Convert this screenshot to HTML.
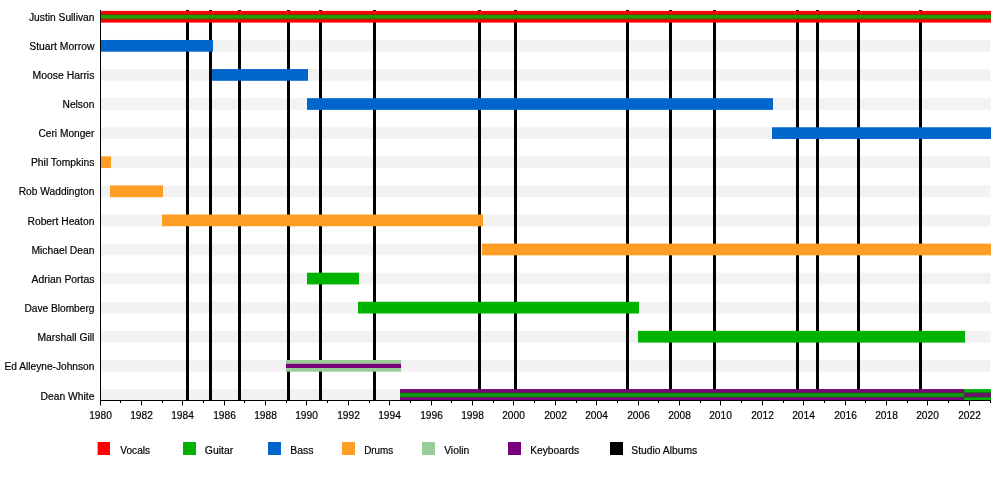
<!DOCTYPE html>
<html><head><meta charset="utf-8"><title>Timeline</title>
<style>html,body{margin:0;padding:0;background:#fff;overflow:hidden}svg{display:block}text{font-family:"Liberation Sans",Arial,Helvetica,sans-serif;font-size:10px;fill:#000;stroke:#000;stroke-width:0.18px}</style></head><body>
<svg width="1000" height="480" viewBox="0 0 1000 480">
<rect width="1000" height="480" fill="#fff"/>
<rect x="101" y="39.99" width="889.5" height="11.7" fill="#f2f2f2"/>
<rect x="101" y="69.08" width="889.5" height="11.7" fill="#f2f2f2"/>
<rect x="101" y="98.17" width="889.5" height="11.7" fill="#f2f2f2"/>
<rect x="101" y="127.26" width="889.5" height="11.7" fill="#f2f2f2"/>
<rect x="101" y="156.35" width="889.5" height="11.7" fill="#f2f2f2"/>
<rect x="101" y="185.44" width="889.5" height="11.7" fill="#f2f2f2"/>
<rect x="101" y="214.53" width="889.5" height="11.7" fill="#f2f2f2"/>
<rect x="101" y="243.62" width="889.5" height="11.7" fill="#f2f2f2"/>
<rect x="101" y="272.71" width="889.5" height="11.7" fill="#f2f2f2"/>
<rect x="101" y="301.80" width="889.5" height="11.7" fill="#f2f2f2"/>
<rect x="101" y="330.89" width="889.5" height="11.7" fill="#f2f2f2"/>
<rect x="101" y="359.98" width="889.5" height="11.7" fill="#f2f2f2"/>
<rect x="101" y="389.07" width="889.5" height="11.7" fill="#f2f2f2"/>
<rect x="186" y="10" width="3" height="390" fill="#000"/>
<rect x="209" y="10" width="3" height="390" fill="#000"/>
<rect x="238" y="10" width="3" height="390" fill="#000"/>
<rect x="287" y="10" width="3" height="390" fill="#000"/>
<rect x="319" y="10" width="3" height="390" fill="#000"/>
<rect x="373" y="10" width="3" height="390" fill="#000"/>
<rect x="478" y="10" width="3" height="390" fill="#000"/>
<rect x="514" y="10" width="3" height="390" fill="#000"/>
<rect x="626" y="10" width="3" height="390" fill="#000"/>
<rect x="669" y="10" width="3" height="390" fill="#000"/>
<rect x="713" y="10" width="3" height="390" fill="#000"/>
<rect x="796" y="10" width="3" height="390" fill="#000"/>
<rect x="816" y="10" width="3" height="390" fill="#000"/>
<rect x="857" y="10" width="3" height="390" fill="#000"/>
<rect x="919" y="10" width="3" height="390" fill="#000"/>
<rect x="100" y="10.90" width="891" height="11.7" fill="#ff0000"/>
<rect x="100" y="14.25" width="891" height="5.1" fill="#604400"/>
<rect x="100" y="15.05" width="891" height="3.55" fill="#1f9e00"/>
<rect x="100" y="39.99" width="113" height="11.7" fill="#0066cc"/>
<rect x="212" y="69.08" width="96" height="11.7" fill="#0066cc"/>
<rect x="307" y="98.17" width="466" height="11.7" fill="#0066cc"/>
<rect x="772" y="127.26" width="219" height="11.7" fill="#0066cc"/>
<rect x="100" y="156.35" width="11" height="11.7" fill="#ff9e24"/>
<rect x="110" y="185.44" width="53" height="11.7" fill="#ff9e24"/>
<rect x="162" y="214.53" width="321" height="11.7" fill="#ff9e24"/>
<rect x="482" y="243.62" width="509" height="11.7" fill="#ff9e24"/>
<rect x="307" y="272.71" width="52" height="11.7" fill="#00b300"/>
<rect x="358" y="301.80" width="281" height="11.7" fill="#00b300"/>
<rect x="638" y="330.89" width="327" height="11.7" fill="#00b300"/>
<rect x="286" y="359.98" width="115" height="11.7" fill="#99cc99"/>
<rect x="286" y="363.78" width="115" height="4.2" fill="#780078"/>
<rect x="400" y="389.07" width="564" height="11.7" fill="#780078"/>
<rect x="400" y="392.42" width="564" height="5.1" fill="#2d442d"/>
<rect x="400" y="393.22" width="564" height="3.55" fill="#0e9e0e"/>
<rect x="964" y="389.07" width="27" height="11.7" fill="#00b300"/>
<rect x="964" y="392.42" width="27" height="5.1" fill="#2d442d"/>
<rect x="964" y="393.22" width="27" height="3.55" fill="#6a156a"/>
<rect x="100" y="10" width="1" height="391" fill="#000"/>
<rect x="100" y="400" width="891" height="1" fill="#000"/>
<rect x="100" y="400" width="1" height="5.5" fill="#000"/>
<text x="89.15" y="419" textLength="22.7" lengthAdjust="spacingAndGlyphs">1980</text>
<rect x="120" y="400" width="1" height="3" fill="#000"/>
<rect x="141" y="400" width="1" height="5.5" fill="#000"/>
<text x="130.15" y="419" textLength="22.7" lengthAdjust="spacingAndGlyphs">1982</text>
<rect x="162" y="400" width="1" height="3" fill="#000"/>
<rect x="182" y="400" width="1" height="5.5" fill="#000"/>
<text x="171.15" y="419" textLength="22.7" lengthAdjust="spacingAndGlyphs">1984</text>
<rect x="203" y="400" width="1" height="3" fill="#000"/>
<rect x="224" y="400" width="1" height="5.5" fill="#000"/>
<text x="213.15" y="419" textLength="22.7" lengthAdjust="spacingAndGlyphs">1986</text>
<rect x="244" y="400" width="1" height="3" fill="#000"/>
<rect x="265" y="400" width="1" height="5.5" fill="#000"/>
<text x="254.15" y="419" textLength="22.7" lengthAdjust="spacingAndGlyphs">1988</text>
<rect x="286" y="400" width="1" height="3" fill="#000"/>
<rect x="306" y="400" width="1" height="5.5" fill="#000"/>
<text x="295.15" y="419" textLength="22.7" lengthAdjust="spacingAndGlyphs">1990</text>
<rect x="327" y="400" width="1" height="3" fill="#000"/>
<rect x="348" y="400" width="1" height="5.5" fill="#000"/>
<text x="337.15" y="419" textLength="22.7" lengthAdjust="spacingAndGlyphs">1992</text>
<rect x="369" y="400" width="1" height="3" fill="#000"/>
<rect x="389" y="400" width="1" height="5.5" fill="#000"/>
<text x="378.15" y="419" textLength="22.7" lengthAdjust="spacingAndGlyphs">1994</text>
<rect x="410" y="400" width="1" height="3" fill="#000"/>
<rect x="431" y="400" width="1" height="5.5" fill="#000"/>
<text x="420.15" y="419" textLength="22.7" lengthAdjust="spacingAndGlyphs">1996</text>
<rect x="451" y="400" width="1" height="3" fill="#000"/>
<rect x="472" y="400" width="1" height="5.5" fill="#000"/>
<text x="461.15" y="419" textLength="22.7" lengthAdjust="spacingAndGlyphs">1998</text>
<rect x="493" y="400" width="1" height="3" fill="#000"/>
<rect x="513" y="400" width="1" height="5.5" fill="#000"/>
<text x="502.15" y="419" textLength="22.7" lengthAdjust="spacingAndGlyphs">2000</text>
<rect x="534" y="400" width="1" height="3" fill="#000"/>
<rect x="555" y="400" width="1" height="5.5" fill="#000"/>
<text x="544.15" y="419" textLength="22.7" lengthAdjust="spacingAndGlyphs">2002</text>
<rect x="576" y="400" width="1" height="3" fill="#000"/>
<rect x="596" y="400" width="1" height="5.5" fill="#000"/>
<text x="585.15" y="419" textLength="22.7" lengthAdjust="spacingAndGlyphs">2004</text>
<rect x="617" y="400" width="1" height="3" fill="#000"/>
<rect x="638" y="400" width="1" height="5.5" fill="#000"/>
<text x="627.15" y="419" textLength="22.7" lengthAdjust="spacingAndGlyphs">2006</text>
<rect x="658" y="400" width="1" height="3" fill="#000"/>
<rect x="679" y="400" width="1" height="5.5" fill="#000"/>
<text x="668.15" y="419" textLength="22.7" lengthAdjust="spacingAndGlyphs">2008</text>
<rect x="700" y="400" width="1" height="3" fill="#000"/>
<rect x="720" y="400" width="1" height="5.5" fill="#000"/>
<text x="709.15" y="419" textLength="22.7" lengthAdjust="spacingAndGlyphs">2010</text>
<rect x="741" y="400" width="1" height="3" fill="#000"/>
<rect x="762" y="400" width="1" height="5.5" fill="#000"/>
<text x="751.15" y="419" textLength="22.7" lengthAdjust="spacingAndGlyphs">2012</text>
<rect x="783" y="400" width="1" height="3" fill="#000"/>
<rect x="803" y="400" width="1" height="5.5" fill="#000"/>
<text x="792.15" y="419" textLength="22.7" lengthAdjust="spacingAndGlyphs">2014</text>
<rect x="824" y="400" width="1" height="3" fill="#000"/>
<rect x="845" y="400" width="1" height="5.5" fill="#000"/>
<text x="834.15" y="419" textLength="22.7" lengthAdjust="spacingAndGlyphs">2016</text>
<rect x="865" y="400" width="1" height="3" fill="#000"/>
<rect x="886" y="400" width="1" height="5.5" fill="#000"/>
<text x="875.15" y="419" textLength="22.7" lengthAdjust="spacingAndGlyphs">2018</text>
<rect x="907" y="400" width="1" height="3" fill="#000"/>
<rect x="927" y="400" width="1" height="5.5" fill="#000"/>
<text x="916.15" y="419" textLength="22.7" lengthAdjust="spacingAndGlyphs">2020</text>
<rect x="948" y="400" width="1" height="3" fill="#000"/>
<rect x="969" y="400" width="1" height="5.5" fill="#000"/>
<text x="958.15" y="419" textLength="22.7" lengthAdjust="spacingAndGlyphs">2022</text>
<rect x="990" y="400" width="1" height="3" fill="#000"/>
<text x="29.00" y="20.95" textLength="65.40" lengthAdjust="spacingAndGlyphs">Justin Sullivan</text>
<text x="29.30" y="50.04" textLength="65.10" lengthAdjust="spacingAndGlyphs">Stuart Morrow</text>
<text x="32.50" y="79.13" textLength="61.90" lengthAdjust="spacingAndGlyphs">Moose Harris</text>
<text x="62.50" y="108.22" textLength="31.90" lengthAdjust="spacingAndGlyphs">Nelson</text>
<text x="38.50" y="137.31" textLength="55.90" lengthAdjust="spacingAndGlyphs">Ceri Monger</text>
<text x="31.00" y="166.4" textLength="63.40" lengthAdjust="spacingAndGlyphs">Phil Tompkins</text>
<text x="18.70" y="195.49" textLength="75.70" lengthAdjust="spacingAndGlyphs">Rob Waddington</text>
<text x="27.50" y="224.58" textLength="66.90" lengthAdjust="spacingAndGlyphs">Robert Heaton</text>
<text x="31.50" y="253.67" textLength="62.90" lengthAdjust="spacingAndGlyphs">Michael Dean</text>
<text x="31.50" y="282.76" textLength="62.90" lengthAdjust="spacingAndGlyphs">Adrian Portas</text>
<text x="24.50" y="311.85" textLength="69.90" lengthAdjust="spacingAndGlyphs">Dave Blomberg</text>
<text x="37.50" y="340.94" textLength="56.90" lengthAdjust="spacingAndGlyphs">Marshall Gill</text>
<text x="4.50" y="370.03" textLength="89.90" lengthAdjust="spacingAndGlyphs">Ed Alleyne-Johnson</text>
<text x="40.50" y="399.6" textLength="53.90" lengthAdjust="spacingAndGlyphs">Dean White</text>
<rect x="97.6" y="442" width="12.4" height="13" fill="#ff0000"/>
<text x="120.3" y="454" textLength="29.8" lengthAdjust="spacingAndGlyphs">Vocals</text>
<rect x="183" y="442" width="13" height="13" fill="#00b300"/>
<text x="204.8" y="454" textLength="28.4" lengthAdjust="spacingAndGlyphs">Guitar</text>
<rect x="268" y="442" width="13" height="13" fill="#0066cc"/>
<text x="290.2" y="454" textLength="23.2" lengthAdjust="spacingAndGlyphs">Bass</text>
<rect x="342" y="442" width="13" height="13" fill="#ff9e24"/>
<text x="364.2" y="454" textLength="29.0" lengthAdjust="spacingAndGlyphs">Drums</text>
<rect x="422" y="442" width="13" height="13" fill="#99cc99"/>
<text x="444.2" y="454" textLength="25.0" lengthAdjust="spacingAndGlyphs">Violin</text>
<rect x="508" y="442" width="13" height="13" fill="#780078"/>
<text x="530.2" y="454" textLength="49.0" lengthAdjust="spacingAndGlyphs">Keyboards</text>
<rect x="610" y="442" width="13" height="13" fill="#000"/>
<text x="631.3" y="454" textLength="66.0" lengthAdjust="spacingAndGlyphs">Studio Albums</text>
</svg></body></html>
